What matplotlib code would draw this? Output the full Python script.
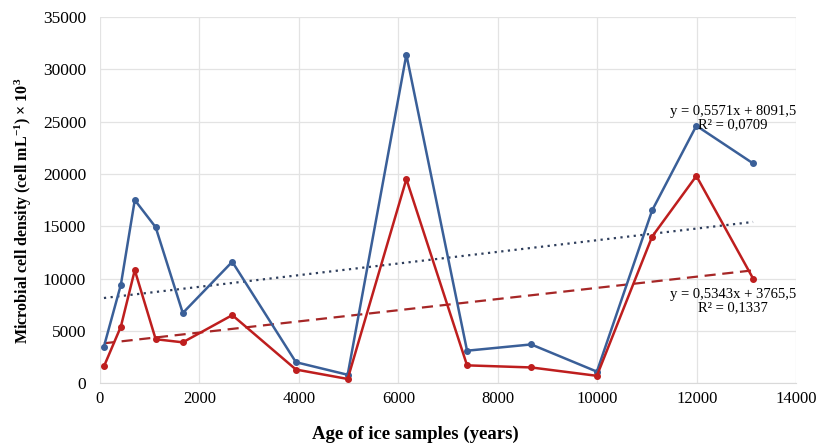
import matplotlib.pyplot as plt
import numpy as np

# ---------------------------------------------------------------------------
# Data
# ---------------------------------------------------------------------------

AGE = [80, 420, 700, 1120, 1665, 2660, 3940, 4980, 6160,
       7380, 8670, 9990, 11100, 11990, 13130]
BLUE = [3500, 9400, 17500, 14900, 6700, 11600, 2000, 800, 31400,
        3100, 3700, 1100, 16500, 24600, 21000]
RED = [1600, 5400, 10800, 4200, 3900, 6500, 1300, 400, 19500,
       1700, 1500, 700, 14000, 19800, 10000]

# linear trend coefficients as printed on the chart
BLUE_FIT = (0.5571, 8091.5)
RED_FIT = (0.5343, 3765.5)
BLUE_TXT = "y = 0,5571x + 8091,5\nR² = 0,0709"
RED_TXT = "y = 0,5343x + 3765,5\nR² = 0,1337"

C_BLUE = "#3A5F98"
C_RED = "#BE1E1E"

plt.rcParams["font.family"] = ["Liberation Serif", "DejaVu Serif"]
plt.rcParams["mathtext.fontset"] = "custom"
plt.rcParams["mathtext.rm"] = "Liberation Serif:bold"
plt.rcParams["mathtext.it"] = "Liberation Serif:bold"

fig = plt.figure(figsize=(8.33, 4.45), dpi=100)
ax = fig.add_axes([0.12, 0.139, 0.836, 0.823])

ax.plot(AGE, BLUE, color=C_BLUE, lw=1.8, marker="o", ms=4, zorder=3)
ax.plot(AGE, RED, color=C_RED, lw=1.8, marker="o", ms=4, zorder=3)

xs = np.array([AGE[0], AGE[-1]])
ax.plot(xs, BLUE_FIT[0] * xs + BLUE_FIT[1], color="#2E3E5C", lw=1.6,
        linestyle=(0, (1, 2)), zorder=2)
ax.plot(xs, RED_FIT[0] * xs + RED_FIT[1], color="#A62626", lw=1.6,
        linestyle=(0, (5, 3)), zorder=2)

ax.text(12720, 24100, BLUE_TXT, ha="center", va="bottom", fontsize=10.5,
        linespacing=1.0, multialignment="center")
ax.text(12720, 6600, RED_TXT, ha="center", va="bottom", fontsize=10.5,
        linespacing=1.0, multialignment="center")

ax.set_xlim(0, 14000)
ax.set_ylim(0, 35000)
ax.set_xticks(range(0, 14001, 2000))
ax.set_yticks(range(0, 35001, 5000))
ax.grid(True, color="#E3E3E3", lw=0.9)
ax.set_axisbelow(True)
for s in ["left", "right", "top"]:
    ax.spines[s].set_visible(False)
ax.spines["bottom"].set_color("#D9D9D9")
ax.tick_params(axis="x", length=0, labelsize=12, pad=6)
ax.tick_params(axis="y", length=0, labelsize=12.5, pad=10)

ax.set_xlabel("Age of ice samples (years)", fontsize=13.5, fontweight="bold")
ax.xaxis.set_label_coords(0.453, -0.115)
ax.set_ylabel(r"Microbial cell density (cell mL$^{\mathrm{-1}}$) × 10$^{3}$",
              fontsize=11.5, fontweight="bold")
ax.yaxis.set_label_coords(-0.095, 0.47)

fig.savefig("out.png", dpi=100)
